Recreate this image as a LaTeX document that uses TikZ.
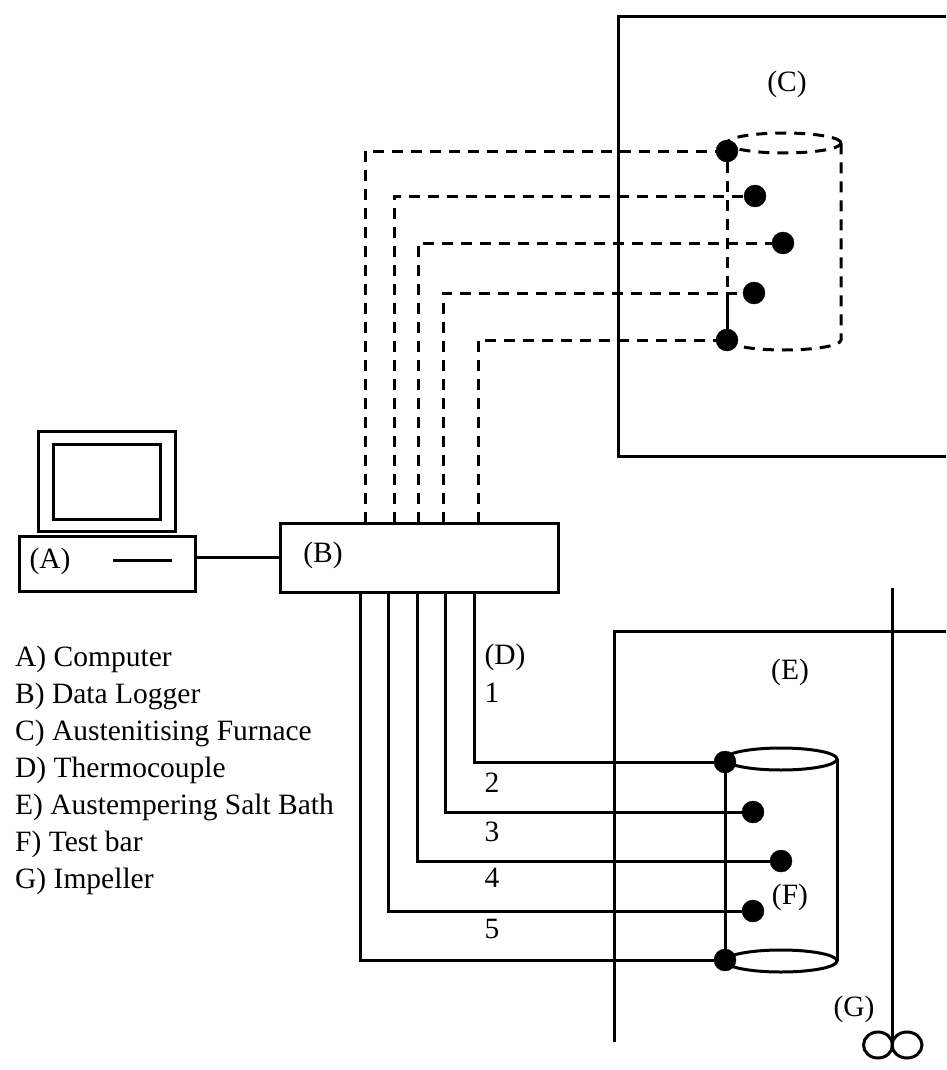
\documentclass[tikz,border=0pt]{standalone}
\usepackage{fontspec}
\setmainfont{Liberation Serif}
\usepackage{tikz}
\usetikzlibrary{positioning,shapes.geometric}
\tikzset{
	box/.style={draw,rectangle,line width=3pt,inner sep=0pt},
	wire/.style={line width=3pt},
	dashwire/.style={line width=3pt,dash pattern=on 11pt off 8pt},
	probe/.style={draw,circle,fill=black,minimum size=22pt,inner sep=0pt},
	blade/.style={draw,ellipse,line width=3pt,minimum height=26pt,inner sep=0pt},
	txt/.style={font=\fontsize{29.5}{37}\selectfont,inner sep=0pt},
}

\begin{document}
\begin{tikzpicture}[x=1pt,y=-1pt]
	\useasboundingbox (0,0) rectangle (946,1070);

	% Computer
	\node[box,minimum width=137pt,minimum height=100pt] (monitor) at (106.5,481) {};
	\node[box,minimum width=107pt,minimum height=75pt] (screen) at (106.5,481.5) {};
	\node[box,minimum width=176pt,minimum height=55pt] (base) at (107,563.5) {};
	\node[txt] (labela) at (50,561) {(A)};
	\coordinate (slot1) at (113,560);
	\coordinate (slot2) at (172,560);
	\draw[wire] (slot1) -- (slot2);

	% Data Logger
	\node[box,minimum width=278pt,minimum height=69pt] (logger) at (419,557.5) {};
	\node[txt] (labelb) at (323,555) {(B)};
	\draw[wire] (base.east |- logger.west) -- (logger.west);

	% Ofen
	\coordinate (furn1) at (946,17);
	\coordinate (furn2) at (618,17);
	\coordinate (furn3) at (618,456);
	\coordinate (furn4) at (946,456);
	\draw[wire] (furn1) -- (furn2) -- (furn3) -- (furn4);
	\node[txt] (labelc) at (787,84) {(C)};

	% Fuehler im Ofen
	\node[probe] (c1) at (727,151) {};
	\node[probe] (c2) at (755,196) {};
	\node[probe] (c3) at (783,243) {};
	\node[probe] (c4) at (754,293) {};
	\node[probe] (c5) at (727,340) {};

	% Zylinder im Ofen
	\draw[dashwire] (784,143) ellipse [x radius=57pt,y radius=10pt];
	\draw[dashwire] (727,340) arc [start angle=180,end angle=360,x radius=57pt,y radius=10pt] -- (841,143);
	\draw[dashwire] (c1) -- (727,293);
	\draw[wire] (727,293) -- (c5);

	% Leitungen zum Ofen
	\coordinate (lt1) at (365,523);
	\coordinate (lt2) at (394,523);
	\coordinate (lt3) at (418,523);
	\coordinate (lt4) at (443,523);
	\coordinate (lt5) at (478,523);
	\draw[dashwire] (lt1) |- (c1);
	\draw[dashwire] (lt2) |- (c2);
	\draw[dashwire] (lt3) |- (c3);
	\draw[dashwire] (lt4) |- (c4);
	\draw[dashwire] (lt5) |- (c5);

	% Salzbad
	\coordinate (bath1) at (946,631);
	\coordinate (bath2) at (614,631);
	\coordinate (bath3) at (614,1042);
	\draw[wire] (bath1) -- (bath2) -- (bath3);
	\node[txt] (labele) at (790,672) {(E)};

	% Fuehler im Salzbad
	\node[probe] (e1) at (725,762) {};
	\node[probe] (e2) at (753,812) {};
	\node[probe] (e3) at (781,861) {};
	\node[probe] (e4) at (753,911) {};
	\node[probe] (e5) at (725,960) {};
	\node[txt] (labelf) at (790,897) {(F)};

	% Zylinder im Salzbad
	\draw[wire] (781,759) ellipse [x radius=56pt,y radius=11pt];
	\draw[wire] (781,961) ellipse [x radius=56pt,y radius=11pt];
	\draw[wire] (e1) -- (e5);
	\draw[wire] (837,759) -- (837,961);

	% Leitungen zum Salzbad
	\coordinate (lb1) at (474,592);
	\coordinate (lb2) at (445,592);
	\coordinate (lb3) at (417,592);
	\coordinate (lb4) at (388,592);
	\coordinate (lb5) at (360,592);
	\draw[wire] (lb1) |- (e1);
	\draw[wire] (lb2) |- (e2);
	\draw[wire] (lb3) |- (e3);
	\draw[wire] (lb4) |- (e4);
	\draw[wire] (lb5) |- (e5);
	\node[txt] (labeld) at (505,657) {(D)};
	\node[txt] (num1) at (492,693) {1};
	\node[txt] (num2) at (492,783) {2};
	\node[txt] (num3) at (492,832) {3};
	\node[txt] (num4) at (492,878) {4};
	\node[txt] (num5) at (492,929) {5};

	% Ruehrer
	\node[blade,minimum width=29pt] (blade1) at (878,1045) {};
	\node[blade,minimum width=30pt] (blade2) at (907,1045) {};
	\coordinate (shaft) at (892,588);
	\draw[wire] (shaft) -- (892,1052);
	\node[txt] (labelg) at (854,1009) {(G)};

	% Legende
	\node[txt,align=left,anchor=north west] (legend) at (15,645.5) {A) Computer\\B) Data Logger\\C) Austenitising Furnace\\D) Thermocouple\\E) Austempering Salt Bath\\F) Test bar\\G) Impeller};
\end{tikzpicture}
\end{document}
